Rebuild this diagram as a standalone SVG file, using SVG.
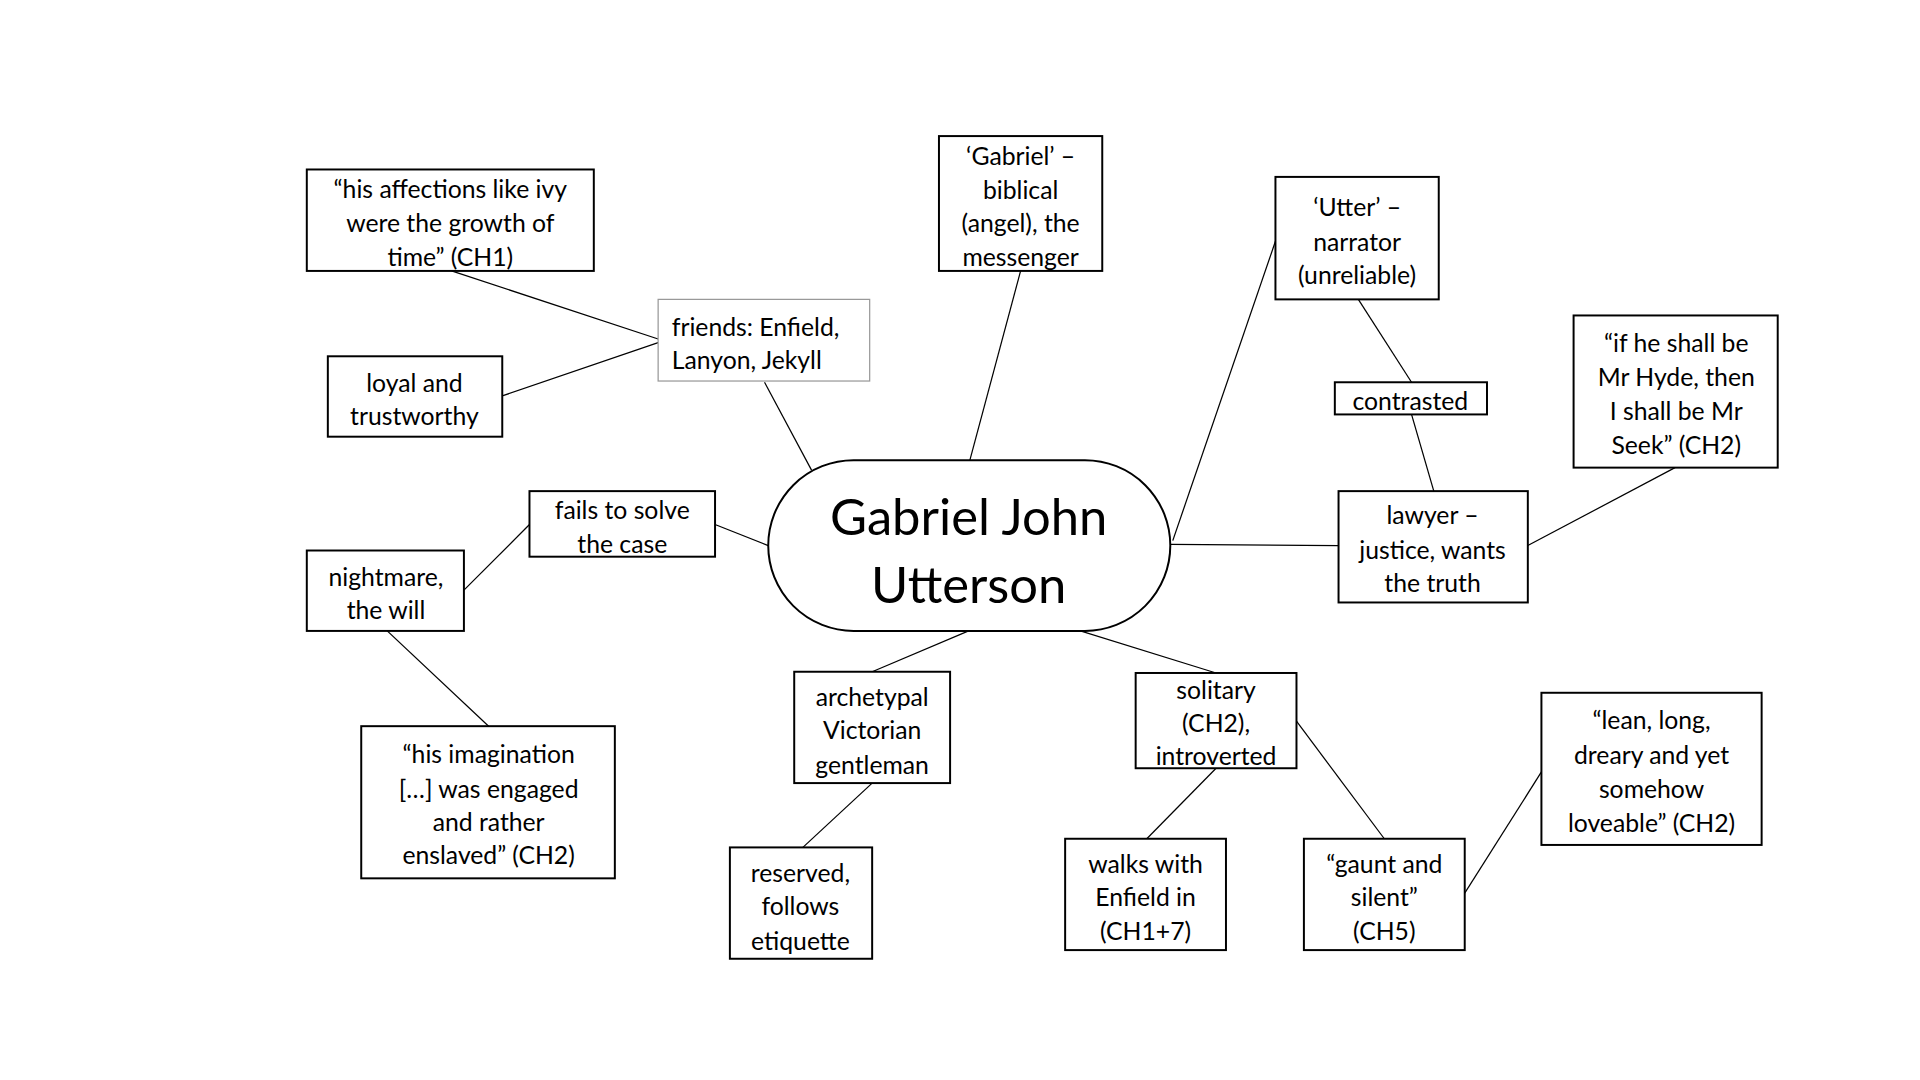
<svg xmlns="http://www.w3.org/2000/svg" width="1920" height="1080" viewBox="0 0 1920 1080">
<style>
.b{fill:#fff;stroke:#000;stroke-width:1.6}
.g{fill:#fff;stroke:#999;stroke-width:1}
text{font-family:Lato,"Liberation Sans",sans-serif;font-size:20px;fill:#000}
.c{text-anchor:middle;dominant-baseline:central}
.l{dominant-baseline:central}
.t{font-size:41px}
#conn line{stroke:#000;stroke-width:1}
</style>
<rect width="1920" height="1080" fill="#fff"/>
<g transform="scale(1.2371)">
<g id="conn">
<line x1="365" y1="219" x2="532" y2="274"/>
<line x1="406" y1="320" x2="532" y2="277"/>
<line x1="618" y1="309" x2="656" y2="380"/>
<line x1="825" y1="219" x2="784" y2="372"/>
<line x1="1031" y1="195" x2="948" y2="437"/>
<line x1="1098" y1="242" x2="1141" y2="309"/>
<line x1="1141" y1="335" x2="1159" y2="397"/>
<line x1="946" y1="440" x2="1082" y2="441"/>
<line x1="1235" y1="441" x2="1354" y2="378"/>
<line x1="578" y1="424" x2="621" y2="441"/>
<line x1="428" y1="424" x2="375" y2="477"/>
<line x1="313" y1="510" x2="395" y2="587"/>
<line x1="783" y1="510" x2="705" y2="543"/>
<line x1="705" y1="633" x2="649" y2="685"/>
<line x1="870" y1="509" x2="983" y2="544"/>
<line x1="983" y1="621" x2="927" y2="678"/>
<line x1="1048" y1="583" x2="1119" y2="678"/>
<line x1="1184" y1="722" x2="1246" y2="624"/>
</g>
<g id="center"><rect class="b" x="621" y="372" width="325" height="138" rx="69"/>
<text class="c t" x="783" y="417">Gabriel John</text><text class="c t" x="783" y="472">Utterson</text></g>
<g id="n1"><rect class="b" x="248" y="137" width="232" height="82"/>
<text class="c" x="364" y="152">“his affections like ivy</text><text class="c" x="364" y="180">were the growth of</text><text class="c" x="364" y="207">time” (CH1)</text></g>
<g id="n2"><rect class="b" x="265" y="288" width="141" height="65"/>
<text class="c" x="335" y="309">loyal and</text><text class="c" x="335" y="336">trustworthy</text></g>
<g id="n3"><rect class="g" x="532" y="242" width="171" height="66"/>
<text class="l" x="543" y="264">friends: Enfield,</text><text class="l" x="543" y="291">Lanyon, Jekyll</text></g>
<g id="n4"><rect class="b" x="759" y="110" width="132" height="109"/>
<text class="c" x="825" y="126">‘Gabriel’ –</text><text class="c" x="825" y="153">biblical</text><text class="c" x="825" y="180">(angel), the</text><text class="c" x="825" y="207">messenger</text></g>
<g id="n5"><rect class="b" x="1031" y="143" width="132" height="99"/>
<text class="c" x="1097" y="167">‘Utter’ –</text><text class="c" x="1097" y="195">narrator</text><text class="c" x="1097" y="222">(unreliable)</text></g>
<g id="n6"><rect class="b" x="1079" y="309" width="123" height="26"/>
<text class="c" x="1140" y="324">contrasted</text></g>
<g id="n7"><rect class="b" x="1272" y="255" width="165" height="123"/>
<text class="c" x="1355" y="277">“if he shall be</text><text class="c" x="1355" y="304">Mr Hyde, then</text><text class="c" x="1355" y="332">I shall be Mr</text><text class="c" x="1355" y="359">Seek” (CH2)</text></g>
<g id="n8"><rect class="b" x="1082" y="397" width="153" height="90"/>
<text class="c" x="1158" y="416">lawyer –</text><text class="c" x="1158" y="444">justice, wants</text><text class="c" x="1158" y="471">the truth</text></g>
<g id="n9"><rect class="b" x="428" y="397" width="150" height="53"/>
<text class="c" x="503" y="412">fails to solve</text><text class="c" x="503" y="439">the case</text></g>
<g id="n10"><rect class="b" x="248" y="445" width="127" height="65"/>
<text class="c" x="312" y="466">nightmare,</text><text class="c" x="312" y="493">the will</text></g>
<g id="n11"><rect class="b" x="292" y="587" width="205" height="123"/>
<text class="c" x="395" y="609">“his imagination</text><text class="c" x="395" y="637">[…] was engaged</text><text class="c" x="395" y="664">and rather</text><text class="c" x="395" y="691">enslaved” (CH2)</text></g>
<g id="n12"><rect class="b" x="642" y="543" width="126" height="90"/>
<text class="c" x="705" y="563">archetypal</text><text class="c" x="705" y="590">Victorian</text><text class="c" x="705" y="618">gentleman</text></g>
<g id="n13"><rect class="b" x="590" y="685" width="115" height="90"/>
<text class="c" x="647" y="705">reserved,</text><text class="c" x="647" y="732">follows</text><text class="c" x="647" y="760">etiquette</text></g>
<g id="n14"><rect class="b" x="918" y="544" width="130" height="77"/>
<text class="c" x="983" y="557">solitary</text><text class="c" x="983" y="584">(CH2),</text><text class="c" x="983" y="611">introverted</text></g>
<g id="n15"><rect class="b" x="861" y="678" width="130" height="90"/>
<text class="c" x="926" y="698">walks with</text><text class="c" x="926" y="725">Enfield in</text><text class="c" x="926" y="752">(CH1+7)</text></g>
<g id="n16"><rect class="b" x="1054" y="678" width="130" height="90"/>
<text class="c" x="1119" y="698">“gaunt and</text><text class="c" x="1119" y="725">silent”</text><text class="c" x="1119" y="752">(CH5)</text></g>
<g id="n17"><rect class="b" x="1246" y="560" width="178" height="123"/>
<text class="c" x="1335" y="582">“lean, long,</text><text class="c" x="1335" y="610">dreary and yet</text><text class="c" x="1335" y="637">somehow</text><text class="c" x="1335" y="665">loveable” (CH2)</text></g>
</g>
</svg>
